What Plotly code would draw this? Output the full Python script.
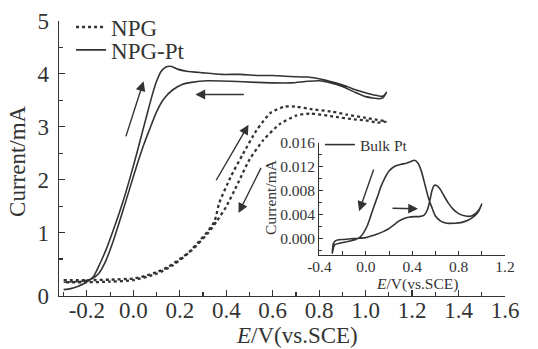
import plotly.graph_objects as go

# ---------------- data ----------------
# NPG-Pt cyclic voltammogram (scan order: forward then reverse)
NPG_PT_E = [-0.30, -0.27, -0.24, -0.21, -0.19, -0.171, -0.145, -0.115, -0.09, -0.06,
            -0.035, -0.01, 0.015, 0.04, 0.06, 0.08, 0.10, 0.12, 0.14, 0.165, 0.19,
            0.23, 0.30, 0.38, 0.46, 0.54, 0.60, 0.675, 0.75, 0.82, 0.87, 0.92,
            0.97, 1.01, 1.05, 1.075, 1.09,
            1.075, 1.06, 1.00, 0.95, 0.90, 0.85, 0.80, 0.75, 0.68, 0.60, 0.53,
            0.42, 0.32, 0.25, 0.21, 0.17, 0.13, 0.10, 0.07, 0.044, 0.016, -0.015,
            -0.05, -0.085, -0.12, -0.15, -0.18, -0.22, -0.26, -0.30]
NPG_PT_I = [-0.08, -0.06, -0.02, 0.04, 0.10, 0.17, 0.40, 0.70, 1.00, 1.38,
            1.72, 2.10, 2.50, 2.92, 3.25, 3.58, 3.86, 4.05, 4.13, 4.14, 4.09,
            4.05, 4.02, 3.99, 3.99, 3.97, 3.97, 3.95, 3.94, 3.89, 3.83, 3.76,
            3.68, 3.63, 3.59, 3.58, 3.65,
            3.55, 3.53, 3.57, 3.66, 3.76, 3.83, 3.87, 3.86, 3.83, 3.83, 3.84,
            3.86, 3.87, 3.84, 3.80, 3.70, 3.52, 3.28, 2.95, 2.65, 2.28, 1.84,
            1.34, 0.86, 0.45, 0.22, 0.12, 0.08, 0.07, 0.06]

# NPG cyclic voltammogram (scan order: forward then reverse)
NPG_E = [-0.30, -0.20, -0.10, 0.00, 0.05, 0.10, 0.15, 0.20, 0.24, 0.28, 0.32,
         0.35, 0.37, 0.42, 0.47, 0.53, 0.59, 0.65, 0.70, 0.77, 0.85, 0.92,
         1.00, 1.05, 1.09,
         1.05, 1.00, 0.95, 0.85, 0.76, 0.70, 0.63, 0.56, 0.50, 0.45, 0.40,
         0.36, 0.32, 0.25, 0.17, 0.10, 0.00, -0.10, -0.20, -0.30]
NPG_I = [0.10, 0.10, 0.11, 0.13, 0.18, 0.25, 0.35, 0.50, 0.63, 0.82, 1.02,
         1.22, 1.56, 2.06, 2.47, 2.93, 3.26, 3.38, 3.38, 3.33, 3.29, 3.23,
         3.17, 3.13, 3.10,
         3.08, 3.12, 3.14, 3.20, 3.25, 3.21, 3.05, 2.75, 2.38, 1.93, 1.49,
         1.22, 0.98, 0.66, 0.38, 0.22, 0.10, 0.07, 0.06, 0.06]

# Bulk Pt (inset) cyclic voltammogram
BULK_E = [-0.29, -0.28, -0.26, -0.20, -0.13, -0.06, 0.00, 0.05, 0.10, 0.15,
          0.19, 0.24, 0.28, 0.33, 0.37, 0.42, 0.46, 0.50, 0.53, 0.55, 0.57,
          0.59, 0.61, 0.64, 0.67, 0.71, 0.75, 0.80, 0.86, 0.91, 0.95, 0.98, 1.00,
          0.97, 0.93, 0.88, 0.82, 0.77, 0.70, 0.65, 0.60, 0.57, 0.54, 0.51,
          0.48, 0.45, 0.42, 0.39, 0.35, 0.30, 0.25, 0.20, 0.16, 0.13, 0.10,
          0.07, 0.04, 0.015, -0.02, -0.05, -0.10, -0.17, -0.22, -0.27, -0.29]
BULK_I = [-0.0024, -0.0008, -0.0003, -0.0001, 0.0000, 0.0001, 0.0002, 0.0005,
          0.0008, 0.0012, 0.0016, 0.0023, 0.0029, 0.0034, 0.0036, 0.0037,
          0.0037, 0.0039, 0.0048, 0.0062, 0.0080, 0.0089, 0.0089, 0.0083,
          0.0073, 0.0060, 0.0050, 0.0042, 0.0038, 0.0038, 0.0043, 0.0050, 0.0058,
          0.0045, 0.0037, 0.0031, 0.0027, 0.0026, 0.0026, 0.0029, 0.0038,
          0.0052, 0.0068, 0.0090, 0.0112, 0.0126, 0.0131, 0.0129, 0.0126,
          0.0124, 0.0121, 0.0113, 0.0100, 0.0087, 0.0070, 0.0054, 0.0037,
          0.0023, 0.0010, 0.0003, -0.0002, -0.0005, -0.0007, -0.0010, -0.0024]

# tick labels and titles
X_TICKS = [-0.2, 0.0, 0.2, 0.4, 0.6, 0.8, 1.0, 1.2, 1.4, 1.6]
X_TICK_TEXT = ["-0.2", "0.0", "0.2", "0.4", "0.6", "0.8", "1.0", "1.2", "1.4", "1.6"]
X_MINOR = [-0.3, -0.1, 0.1, 0.3, 0.5, 0.7, 0.9, 1.1, 1.3, 1.5]
Y_TICKS = [-0.2, 1, 2, 3, 4, 5]
Y_TICK_TEXT = ["0", "1", "2", "3", "4", "5"]
Y_MINOR = [0.5, 1.5, 2.5, 3.5, 4.5]
IX_TICKS = [-0.4, 0.0, 0.4, 0.8, 1.2]
IX_TICK_TEXT = ["-0.4", "0.0", "0.4", "0.8", "1.2"]
IX_MINOR = [-0.2, 0.2, 0.6, 1.0]
IY_TICKS = [0.000, 0.004, 0.008, 0.012, 0.016]
IY_TICK_TEXT = ["0.000", "0.004", "0.008", "0.012", "0.016"]
IY_MINOR = [-0.002, 0.002, 0.006, 0.010, 0.014]
X_TITLE = "<i>E</i>/V(vs.SCE)"
Y_TITLE = "Current/mA"

INK = "#333333"
FONT = "Liberation Serif"

fig = go.Figure()
fig.add_trace(go.Scatter(x=NPG_E, y=NPG_I, mode="lines", name="NPG",
                         line=dict(color=INK, width=2.3, dash="dot", shape="spline", smoothing=0.6),
                         legend="legend", hoverinfo="skip"))
fig.add_trace(go.Scatter(x=NPG_PT_E, y=NPG_PT_I, mode="lines", name="NPG-Pt",
                         line=dict(color=INK, width=1.6, shape="spline", smoothing=0.6),
                         legend="legend2", hoverinfo="skip"))
fig.add_trace(go.Scatter(x=BULK_E, y=BULK_I, mode="lines", name="Bulk Pt",
                         line=dict(color=INK, width=1.6, shape="spline", smoothing=0.6),
                         xaxis="x2", yaxis="y2", legend="legend3", hoverinfo="skip"))

axis_common = dict(showline=True, linecolor=INK, linewidth=1.3, showgrid=False,
                   zeroline=False, ticks="inside", tickcolor=INK, tickwidth=1.2,
                   mirror=False, tickmode="array", automargin=False)

fig.update_layout(
    width=538, height=349,
    margin=dict(l=59, r=33, t=21, b=53, autoexpand=False),
    paper_bgcolor="white", plot_bgcolor="white",
    font=dict(family=FONT, color=INK, size=23),
    xaxis=dict(axis_common, range=[-0.32, 1.6], domain=[0, 1],
               tickvals=X_TICKS, ticktext=X_TICK_TEXT, ticklen=6, ticklabelstandoff=-7,
               minor=dict(tickmode="array", tickvals=X_MINOR, ticks="inside", ticklen=4,
                          tickcolor=INK, tickwidth=1.2),
               tickfont=dict(family=FONT, size=23)),
    yaxis=dict(axis_common, range=[-0.2, 5.0], domain=[0, 1],
               tickvals=Y_TICKS, ticktext=Y_TICK_TEXT, ticklen=6, ticklabelstandoff=4,
               minor=dict(tickmode="array", tickvals=Y_MINOR, ticks="inside", ticklen=4,
                          tickcolor=INK, tickwidth=1.2),
               tickfont=dict(family=FONT, size=23)),
    xaxis2=dict(axis_common, range=[-0.4, 1.2], domain=[0.584, 1.0], anchor="y2",
                tickvals=IX_TICKS, ticktext=IX_TICK_TEXT, ticklen=4, ticklabelstandoff=-3,
                minor=dict(tickmode="array", tickvals=IX_MINOR, ticks="inside", ticklen=4,
                           tickcolor=INK, tickwidth=1.0),
                tickfont=dict(family=FONT, size=15.5)),
    yaxis2=dict(axis_common, range=[-0.0027, 0.016], domain=[0.149, 0.557], anchor="x2",
                tickvals=IY_TICKS, ticktext=IY_TICK_TEXT, ticklen=4,
                minor=dict(tickmode="array", tickvals=IY_MINOR, ticks="inside", ticklen=3,
                           tickcolor=INK, tickwidth=1.0),
                tickfont=dict(family=FONT, size=15.5)),
    legend=dict(x=0.027, y=0.978, xanchor="left", yanchor="middle",
                bgcolor="rgba(0,0,0,0)", font=dict(family=FONT, size=23)),
    legend2=dict(x=0.027, y=0.895, xanchor="left", yanchor="middle",
                 bgcolor="rgba(0,0,0,0)", font=dict(family=FONT, size=23)),
    legend3=dict(x=0.585, y=0.549, xanchor="left", yanchor="middle",
                 bgcolor="rgba(0,0,0,0)", font=dict(family=FONT, size=15.5)),
    showlegend=True,
    hovermode=False,
)

# axis titles
fig.add_annotation(text=X_TITLE, xref="paper", yref="paper", x=0.534, y=-0.142,
                   xanchor="center", yanchor="middle", showarrow=False,
                   font=dict(family=FONT, size=23, color=INK))
fig.add_annotation(text=Y_TITLE, xref="paper", yref="paper", x=-0.092, y=0.491,
                   xanchor="center", yanchor="middle", showarrow=False, textangle=-90,
                   font=dict(family=FONT, size=23, color=INK))
fig.add_annotation(text=X_TITLE, xref="paper", yref="paper", x=0.803, y=0.043,
                   xanchor="center", yanchor="middle", showarrow=False,
                   font=dict(family=FONT, size=15.5, color=INK))
fig.add_annotation(text=Y_TITLE, xref="paper", yref="paper", x=0.473, y=0.36,
                   xanchor="center", yanchor="middle", showarrow=False, textangle=-90,
                   font=dict(family=FONT, size=15.5, color=INK))

arrow = dict(showarrow=True, arrowhead=2, arrowsize=1.4, arrowwidth=1.4,
             arrowcolor=INK, text="", axref="x", ayref="y")
# main-plot arrows
fig.add_annotation(arrow, x=0.044, y=3.86, ax=-0.034, ay=2.79, xref="x", yref="y")
fig.add_annotation(arrow, x=0.267, y=3.61, ax=0.482, ay=3.61, xref="x", yref="y")
fig.add_annotation(arrow, x=0.496, y=3.04, ax=0.353, ay=1.96, xref="x", yref="y")
fig.add_annotation(arrow, x=0.453, y=1.37, ax=0.553, ay=2.25, xref="x", yref="y")
# inset arrows
arrow2 = dict(arrow, axref="x2", ayref="y2")
fig.add_annotation(arrow2, x=-0.058, y=0.0046, ax=0.072, ay=0.0118, xref="x2", yref="y2")
fig.add_annotation(arrow2, x=0.45, y=0.0050, ax=0.217, ay=0.0051, xref="x2", yref="y2")

fig.write_html("out.html", config={"displayModeBar": False, "staticPlot": True},
               post_script="document.body.style.margin='0';document.body.style.overflow='hidden';")
